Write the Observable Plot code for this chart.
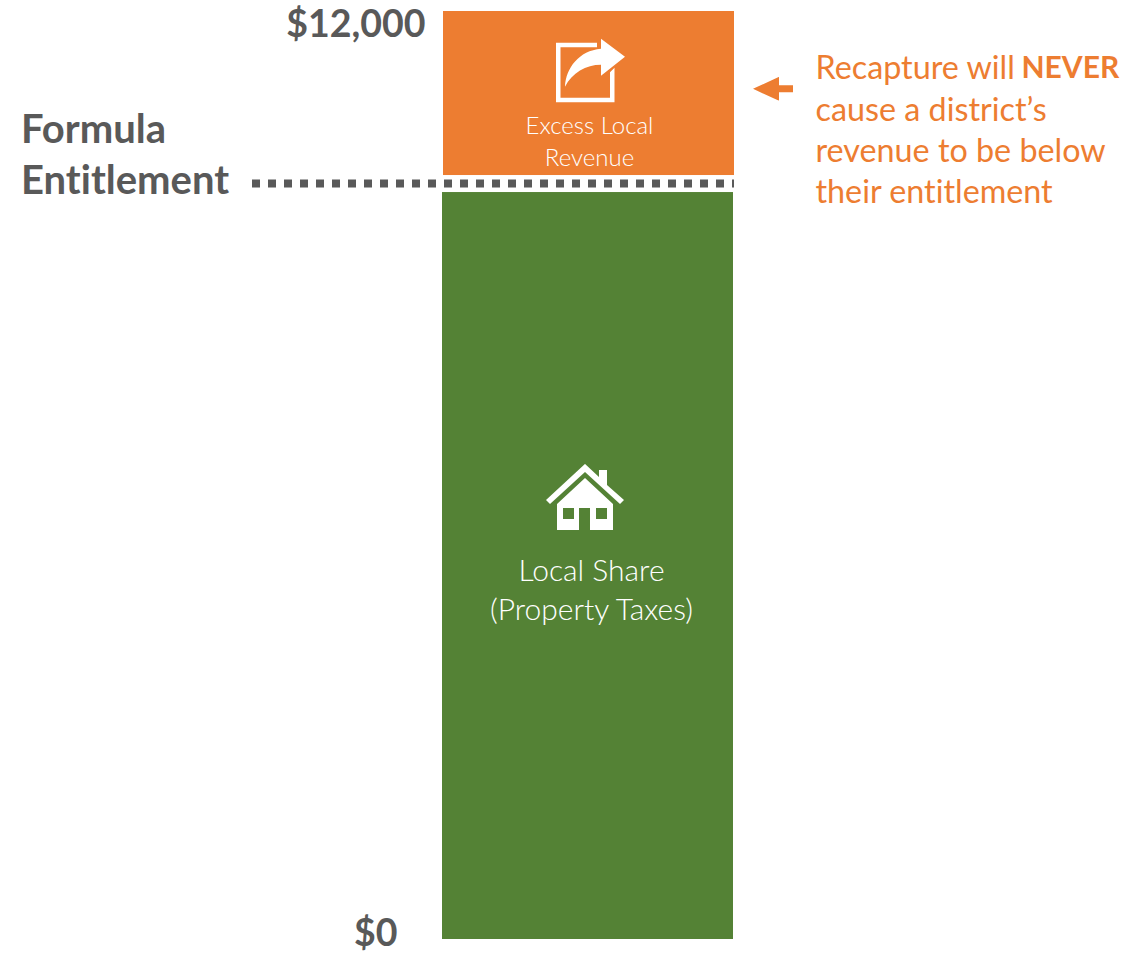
<!DOCTYPE html>
<html>
<head>
<meta charset="utf-8">
<script src="https://cdn.jsdelivr.net/npm/d3@7"></script>
<script src="https://cdn.jsdelivr.net/npm/@observablehq/plot@0.6"></script>
<style>
html,body{margin:0;padding:0;background:#fff;overflow:hidden}
svg{display:block}
svg text{font-variant-ligatures:none}
</style>
</head>
<body>
<div id="chart"></div>
<script>
const barName = ["District"];
const localShareTop = 9659;
const excessBottom = 9879;
const excessTop = 12000;
const entitlement = 9776;
const axisValues = [12000, 0];
const axisLabels = ["$12,000", "$0"];
const entitlementLabel = ["Formula", "Entitlement"];
const excessLabel = ["Excess Local", "Revenue"];
const localLabel = ["Local Share", "(Property Taxes)"];
const noteLines = ["cause a district’s", "revenue to be below", "their entitlement"];

const ORANGE = "#ED7D31", GREEN = "#548235", GREY = "#595959";
const F = "Lato, 'Open Sans', sans-serif";

const uri = s => "data:image/svg+xml;utf8," + encodeURIComponent(s);
const shareIcon = uri(`<svg xmlns="http://www.w3.org/2000/svg" viewBox="0 0 72 66"><path fill="#fff" d="M2 5H43V9.500H6.500V60H56V34.500L60.500 30V64.500H2Z"/><path fill="#fff" d="M11 49C12 30 25 13 47 11V1L71 19L47 38V27C32 27 18 35 11 49Z"/></svg>`);
const houseIcon = uri(`<svg xmlns="http://www.w3.org/2000/svg" viewBox="0 0 78 68"><path fill="#fff" d="M0 36L39 0L53 13V6H61V21L78 36L74 40L39 8L4 40Z"/><path fill="#fff" fill-rule="evenodd" d="M11 40L39 14L67 40V66H44V44H33V66H11ZM17 44V55H28V44ZM50 44V55H61V44Z"/></svg>`);
const arrowIcon = uri(`<svg xmlns="http://www.w3.org/2000/svg" viewBox="0 0 40 24"><path fill="${ORANGE}" d="M0 12L26 0V8.500H40V15.500H26V24Z"/></svg>`);

const txt = (lines, y0, step, dx, opts) => lines.map((t, i) =>
  Plot.text([t], {x: () => barName[0], y: () => y0, dx, dy: i * step, text: d => d, fontFamily: F, lineAnchor: "middle", ...opts}));

const chart = Plot.plot({
  width: 1138, height: 953,
  marginTop: 0, marginRight: 0, marginBottom: 0, marginLeft: 0,
  x: {type: "band", domain: barName, range: [442, 733], padding: 0, axis: null},
  y: {domain: [0, 12000], range: [939, 11], axis: null},
  style: {background: "#fff", fontFamily: F, overflow: "visible"},
  marks: [
    Plot.barY(barName, {x: d => d, y1: () => 0, y2: () => localShareTop, fill: GREEN}),
    Plot.barY(barName, {x: d => d, y1: () => excessBottom, y2: () => excessTop, fill: ORANGE, dx: 1}),
    Plot.tickY([entitlement], {y: d => d, x: () => barName[0], stroke: GREY, strokeWidth: 8,
      strokeDasharray: "8 8",
      render: (index, scales, values, dim, ctx, next) => {
        const g = next(index, scales, values, dim, ctx);
        g.querySelectorAll("line").forEach(l => {
          l.setAttribute("x1", 252);
          l.setAttribute("x2", +l.getAttribute("x2") + 1);
        });
        return g;
      }
    }),
    Plot.text([axisLabels[0]], {x: () => barName[0], y: () => axisValues[0], text: d => d, textAnchor: "end",
      dx: -162.5, dy: 13, lineAnchor: "middle", fontFamily: F, fontWeight: 700, fontSize: 37.5, fill: GREY}),
    Plot.text([axisLabels[1]], {x: () => barName[0], y: () => axisValues[1], text: d => d, textAnchor: "end",
      dx: -190.5, dy: -6, lineAnchor: "middle", fontFamily: F, fontWeight: 700, fontSize: 37.5, fill: GREY}),
    ...txt(entitlementLabel, 10460, 51, -567, {textAnchor: "start", fontWeight: 700, fontSize: 40, fill: GREY}),
    ...txt(excessLabel, 10513, 32, 1.5, {textAnchor: "middle", fontWeight: 300, fontSize: 24, fill: "#fff"}),
    ...txt(localLabel, 4759, 39, 3.5, {textAnchor: "middle", fontWeight: 300, fontSize: 30, fill: "#fff"}),
    Plot.image(barName, {x: d => d, y: () => 11234, dx: 2, src: () => shareIcon, width: 72, height: 66}),
    Plot.image(barName, {x: d => d, y: () => 5710, dx: -3, src: () => houseIcon, width: 78, height: 68}),
    Plot.image(barName, {x: d => d, y: () => 11000, dx: 185, src: () => arrowIcon, width: 40, height: 24}),
    Plot.text(["Recapture will"], {x: () => barName[0], y: () => 11263, dx: 227.5, text: d => d, textAnchor: "start", lineAnchor: "middle", fontFamily: F, fontSize: 32.3, fill: ORANGE}),
    Plot.text(["NEVER"], {x: () => barName[0], y: () => 11263, dx: 433.5, text: d => d, textAnchor: "start", lineAnchor: "middle", fontFamily: F, fontWeight: 700, fontSize: 30, fill: ORANGE}),
    ...txt(noteLines, 10720, 41, 227.5, {textAnchor: "start", fontSize: 32.3, fill: ORANGE})
  ]
});
document.getElementById("chart").appendChild(chart);
</script>
</body>
</html>
